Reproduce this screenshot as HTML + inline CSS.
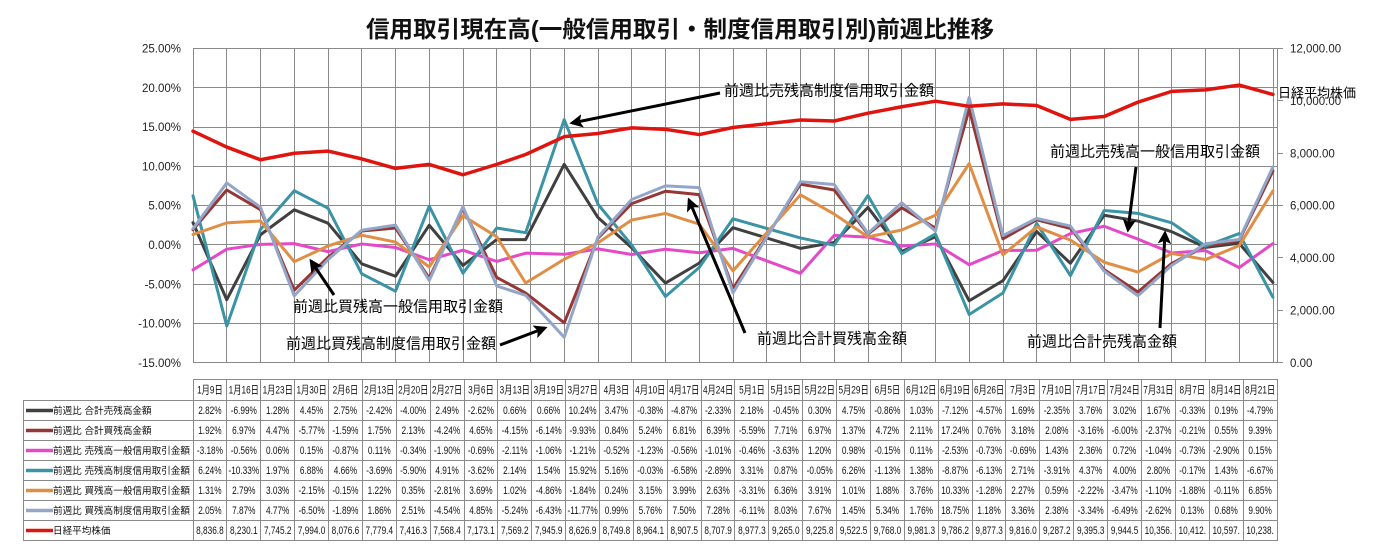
<!DOCTYPE html>
<html><head><meta charset="utf-8"><style>html,body{margin:0;padding:0;background:#fff}svg{display:block}</style></head>
<body>
<svg width="1374" height="554" viewBox="0 0 1374 554" xmlns="http://www.w3.org/2000/svg" font-family='"Liberation Sans","Noto Sans CJK JP",sans-serif'>
<defs>
<marker id="ah" markerWidth="4.5" markerHeight="4.5" refX="3.6" refY="2.25" orient="auto" markerUnits="strokeWidth"><path d="M0,0 L4.5,2.25 L0,4.5 L1,2.25z" fill="#000"/></marker>
</defs>
<rect width="1374" height="554" fill="#fff"/>
<text x="680" y="37" font-size="23" font-weight="bold" text-anchor="middle" textLength="628" lengthAdjust="spacingAndGlyphs" fill="#111">信用取引現在高(一般信用取引・制度信用取引別)前週比推移</text>
<g stroke="#8a8a8a" stroke-width="1" fill="none" shape-rendering="crispEdges">
<path d="M193,48.5H1277M193,87.5H1277M193,127.5H1277M193,166.5H1277M193,205.5H1277M193,244.5H1277M193,284.5H1277M193,323.5H1277M193,362.5H1277"/>
<path d="M193.5,48V363M226.5,48V363M260.5,48V363M294.5,48V363M328.5,48V363M361.5,48V363M395.5,48V363M429.5,48V363M463.5,48V363M496.5,48V363M530.5,48V363M564.5,48V363M598.5,48V363M631.5,48V363M665.5,48V363M699.5,48V363M733.5,48V363M766.5,48V363M800.5,48V363M834.5,48V363M868.5,48V363M901.5,48V363M935.5,48V363M969.5,48V363M1003.5,48V363M1036.5,48V363M1070.5,48V363M1104.5,48V363M1138.5,48V363M1171.5,48V363M1205.5,48V363M1239.5,48V363M1273.5,48V363M1277.5,48V363"/>
<path d="M1277,48.5H1283M1277,100.5H1283M1277,153.5H1283M1277,205.5H1283M1277,257.5H1283M1277,310.5H1283M1277,362.5H1283"/>
</g>
<g font-size="11.5" fill="#222" text-anchor="end">
<text x="181" y="52.5">25.00%</text>
<text x="181" y="91.8">20.00%</text>
<text x="181" y="131.1">15.00%</text>
<text x="181" y="170.4">10.00%</text>
<text x="181" y="209.7">5.00%</text>
<text x="181" y="249">0.00%</text>
<text x="181" y="288.3">-5.00%</text>
<text x="181" y="327.6">-10.00%</text>
<text x="181" y="366.9">-15.00%</text>
</g>
<g font-size="11.5" fill="#222">
<text x="1290" y="52.5">12,000.00</text>
<text x="1290" y="104.9">10,000.00</text>
<text x="1290" y="157.3">8,000.00</text>
<text x="1290" y="209.7">6,000.00</text>
<text x="1290" y="262.1">4,000.00</text>
<text x="1290" y="314.5">2,000.00</text>
<text x="1290" y="366.9">0.00</text>
</g>
<g transform="translate(193,244.8) scale(4.821,-7.86)" fill="none" stroke-linejoin="round" stroke-linecap="round">
<polyline vector-effect="non-scaling-stroke" stroke="#404040" stroke-width="3" points="0,2.82 7,-6.99 14,1.28 21,4.45 28,2.75 35,-2.42 42,-4.00 49,2.49 56,-2.62 63,0.66 69,0.66 77,10.24 84,3.47 91,-0.38 98,-4.87 105,-2.33 112,2.18 126,-0.45 133,0.30 140,4.75 147,-0.86 154,1.03 161,-7.12 168,-4.57 175,1.69 182,-2.35 189,3.76 196,3.02 203,1.67 210,-0.33 217,0.19 224,-4.79"/>
<polyline vector-effect="non-scaling-stroke" stroke="#953735" stroke-width="3" points="0,1.92 7,6.97 14,4.47 21,-5.77 28,-1.59 35,1.75 42,2.13 49,-4.24 56,4.65 63,-4.15 69,-6.14 77,-9.93 84,0.84 91,5.24 98,6.81 105,6.39 112,-5.59 126,7.71 133,6.97 140,1.37 147,4.72 154,2.11 161,17.24 168,0.76 175,3.18 182,2.08 189,-3.16 196,-6.00 203,-2.37 210,-0.21 217,0.55 224,9.39"/>
<polyline vector-effect="non-scaling-stroke" stroke="#E449C8" stroke-width="3" points="0,-3.18 7,-0.56 14,0.06 21,0.15 28,-0.87 35,0.11 42,-0.34 49,-1.90 56,-0.69 63,-2.11 69,-1.06 77,-1.21 84,-0.52 91,-1.23 98,-0.56 105,-1.01 112,-0.46 126,-3.63 133,1.20 140,0.98 147,-0.15 154,0.11 161,-2.53 168,-0.73 175,-0.69 182,1.43 189,2.36 196,0.72 203,-1.04 210,-0.73 217,-2.90 224,0.15"/>
<polyline vector-effect="non-scaling-stroke" stroke="#3B93A6" stroke-width="3" points="0,6.24 7,-10.33 14,1.97 21,6.88 28,4.66 35,-3.69 42,-5.90 49,4.91 56,-3.62 63,2.14 69,1.54 77,15.92 84,5.16 91,-0.03 98,-6.58 105,-2.89 112,3.31 126,0.87 133,-0.05 140,6.26 147,-1.13 154,1.38 161,-8.87 168,-6.13 175,2.71 182,-3.91 189,4.37 196,4.00 203,2.80 210,-0.17 217,1.43 224,-6.67"/>
<polyline vector-effect="non-scaling-stroke" stroke="#E08E45" stroke-width="3" points="0,1.31 7,2.79 14,3.03 21,-2.15 28,-0.15 35,1.22 42,0.35 49,-2.81 56,3.69 63,1.02 69,-4.86 77,-1.84 84,0.24 91,3.15 98,3.99 105,2.63 112,-3.31 126,6.36 133,3.91 140,1.01 147,1.88 154,3.76 161,10.33 168,-1.28 175,2.27 182,0.59 189,-2.22 196,-3.47 203,-1.10 210,-1.88 217,-0.11 224,6.85"/>
<polyline vector-effect="non-scaling-stroke" stroke="#93A6C8" stroke-width="3" points="0,2.05 7,7.87 14,4.77 21,-6.50 28,-1.89 35,1.86 42,2.51 49,-4.54 56,4.85 63,-5.24 69,-6.43 77,-11.77 84,0.99 91,5.76 98,7.50 105,7.28 112,-6.11 126,8.03 133,7.67 140,1.45 147,5.34 154,1.76 161,18.75 168,1.18 175,3.36 182,2.38 189,-3.34 196,-6.49 203,-2.62 210,0.13 217,0.68 224,9.90"/>
</g>
<g transform="translate(193,362.7) scale(4.821,-0.0262)" fill="none" stroke-linejoin="round" stroke-linecap="round">
<polyline vector-effect="non-scaling-stroke" stroke="#E0140F" stroke-width="3.5" points="0,8836.8 7,8230.1 14,7745.2 21,7994.0 28,8076.6 35,7779.4 42,7416.3 49,7568.4 56,7173.1 63,7569.2 69,7945.9 77,8626.9 84,8749.8 91,8964.1 98,8907.5 105,8707.9 112,8977.3 126,9265.0 133,9225.8 140,9522.5 147,9768.0 154,9981.3 161,9786.2 168,9877.3 175,9816.0 182,9287.2 189,9395.3 196,9944.5 203,10356 210,10412 217,10597 224,10238"/>
</g>
<g stroke="#000" stroke-width="3" fill="none" marker-end="url(#ah)">
<line x1="720" y1="93" x2="572" y2="123"/>
<line x1="1136" y1="167" x2="1128" y2="230"/>
<line x1="334" y1="295" x2="311" y2="261"/>
<line x1="500" y1="345" x2="545" y2="328"/>
<line x1="745" y1="333" x2="689" y2="200"/>
<line x1="1160" y1="328" x2="1165" y2="233"/>
</g>
<g font-size="15" fill="#000">
<text x="724" y="95.5">前週比売残高制度信用取引金額</text>
<text x="1050" y="156.5">前週比売残高一般信用取引金額</text>
<text x="293" y="311.5">前週比買残高一般信用取引金額</text>
<text x="286" y="348.5">前週比買残高制度信用取引金額</text>
<text x="757" y="343.5">前週比合計買残高金額</text>
<text x="1027" y="346.5">前週比合計売残高金額</text>
<text x="1278" y="97.5" font-size="13">日経平均株価</text>
</g>
<g stroke="#8a8a8a" stroke-width="1" fill="none" shape-rendering="crispEdges">
<path d="M193,379.5H1277M23,400.5H1277M23,420.5H1277M23,440.5H1277M23,460.5H1277M23,480.5H1277M23,500.5H1277M23,520.5H1277M23,540.5H1277M23.5,400V541"/>
<path d="M193.5,379V541M226.5,379V541M260.5,379V541M294.5,379V541M328.5,379V541M362.5,379V541M396.5,379V541M430.5,379V541M464.5,379V541M497.5,379V541M531.5,379V541M565.5,379V541M599.5,379V541M633.5,379V541M667.5,379V541M701.5,379V541M734.5,379V541M768.5,379V541M802.5,379V541M836.5,379V541M870.5,379V541M904.5,379V541M938.5,379V541M972.5,379V541M1005.5,379V541M1039.5,379V541M1073.5,379V541M1107.5,379V541M1141.5,379V541M1175.5,379V541M1209.5,379V541M1243.5,379V541M1277.5,379V541"/>
</g>
<g stroke-width="3.5" fill="none">
<line x1="26" y1="410.5" x2="53" y2="410.5" stroke="#404040"/>
<line x1="26" y1="430.5" x2="53" y2="430.5" stroke="#953735"/>
<line x1="26" y1="450.5" x2="53" y2="450.5" stroke="#E449C8"/>
<line x1="26" y1="470.5" x2="53" y2="470.5" stroke="#3B93A6"/>
<line x1="26" y1="490.5" x2="53" y2="490.5" stroke="#E08E45"/>
<line x1="26" y1="510.5" x2="53" y2="510.5" stroke="#93A6C8"/>
<line x1="26" y1="530.5" x2="53" y2="530.5" stroke="#E0140F"/>
</g>
<g font-size="9.6" fill="#111">
<text x="53" y="414">前週比 合計売残高金額</text>
<text x="53" y="434">前週比 合計買残高金額</text>
<text x="53" y="454">前週比 売残高一般信用取引金額</text>
<text x="53" y="474">前週比 売残高制度信用取引金額</text>
<text x="53" y="494">前週比 買残高一般信用取引金額</text>
<text x="53" y="514">前週比 買残高制度信用取引金額</text>
<text x="53" y="534">日経平均株価</text>
</g>
<g font-size="11" fill="#111" text-anchor="middle">
<g transform="translate(209.9,0) scale(0.75,1)"><text y="393.5">1月9日</text><text y="414">2.82%</text><text y="434">1.92%</text><text y="454">-3.18%</text><text y="474">6.24%</text><text y="494">1.31%</text><text y="514">2.05%</text><text y="534">8,836.8</text></g>
<g transform="translate(243.8,0) scale(0.75,1)"><text y="393.5">1月16日</text><text y="414">-6.99%</text><text y="434">6.97%</text><text y="454">-0.56%</text><text y="474">-10.33%</text><text y="494">2.79%</text><text y="514">7.87%</text><text y="534">8,230.1</text></g>
<g transform="translate(277.7,0) scale(0.75,1)"><text y="393.5">1月23日</text><text y="414">1.28%</text><text y="434">4.47%</text><text y="454">0.06%</text><text y="474">1.97%</text><text y="494">3.03%</text><text y="514">4.77%</text><text y="534">7,745.2</text></g>
<g transform="translate(311.6,0) scale(0.75,1)"><text y="393.5">1月30日</text><text y="414">4.45%</text><text y="434">-5.77%</text><text y="454">0.15%</text><text y="474">6.88%</text><text y="494">-2.15%</text><text y="514">-6.50%</text><text y="534">7,994.0</text></g>
<g transform="translate(345.4,0) scale(0.75,1)"><text y="393.5">2月6日</text><text y="414">2.75%</text><text y="434">-1.59%</text><text y="454">-0.87%</text><text y="474">4.66%</text><text y="494">-0.15%</text><text y="514">-1.89%</text><text y="534">8,076.6</text></g>
<g transform="translate(379.3,0) scale(0.75,1)"><text y="393.5">2月13日</text><text y="414">-2.42%</text><text y="434">1.75%</text><text y="454">0.11%</text><text y="474">-3.69%</text><text y="494">1.22%</text><text y="514">1.86%</text><text y="534">7,779.4</text></g>
<g transform="translate(413.2,0) scale(0.75,1)"><text y="393.5">2月20日</text><text y="414">-4.00%</text><text y="434">2.13%</text><text y="454">-0.34%</text><text y="474">-5.90%</text><text y="494">0.35%</text><text y="514">2.51%</text><text y="534">7,416.3</text></g>
<g transform="translate(447.1,0) scale(0.75,1)"><text y="393.5">2月27日</text><text y="414">2.49%</text><text y="434">-4.24%</text><text y="454">-1.90%</text><text y="474">4.91%</text><text y="494">-2.81%</text><text y="514">-4.54%</text><text y="534">7,568.4</text></g>
<g transform="translate(480.9,0) scale(0.75,1)"><text y="393.5">3月6日</text><text y="414">-2.62%</text><text y="434">4.65%</text><text y="454">-0.69%</text><text y="474">-3.62%</text><text y="494">3.69%</text><text y="514">4.85%</text><text y="534">7,173.1</text></g>
<g transform="translate(514.8,0) scale(0.75,1)"><text y="393.5">3月13日</text><text y="414">0.66%</text><text y="434">-4.15%</text><text y="454">-2.11%</text><text y="474">2.14%</text><text y="494">1.02%</text><text y="514">-5.24%</text><text y="534">7,569.2</text></g>
<g transform="translate(548.7,0) scale(0.75,1)"><text y="393.5">3月19日</text><text y="414">0.66%</text><text y="434">-6.14%</text><text y="454">-1.06%</text><text y="474">1.54%</text><text y="494">-4.86%</text><text y="514">-6.43%</text><text y="534">7,945.9</text></g>
<g transform="translate(582.6,0) scale(0.75,1)"><text y="393.5">3月27日</text><text y="414">10.24%</text><text y="434">-9.93%</text><text y="454">-1.21%</text><text y="474">15.92%</text><text y="494">-1.84%</text><text y="514">-11.77%</text><text y="534">8,626.9</text></g>
<g transform="translate(616.4,0) scale(0.75,1)"><text y="393.5">4月3日</text><text y="414">3.47%</text><text y="434">0.84%</text><text y="454">-0.52%</text><text y="474">5.16%</text><text y="494">0.24%</text><text y="514">0.99%</text><text y="534">8,749.8</text></g>
<g transform="translate(650.3,0) scale(0.75,1)"><text y="393.5">4月10日</text><text y="414">-0.38%</text><text y="434">5.24%</text><text y="454">-1.23%</text><text y="474">-0.03%</text><text y="494">3.15%</text><text y="514">5.76%</text><text y="534">8,964.1</text></g>
<g transform="translate(684.2,0) scale(0.75,1)"><text y="393.5">4月17日</text><text y="414">-4.87%</text><text y="434">6.81%</text><text y="454">-0.56%</text><text y="474">-6.58%</text><text y="494">3.99%</text><text y="514">7.50%</text><text y="534">8,907.5</text></g>
<g transform="translate(718.1,0) scale(0.75,1)"><text y="393.5">4月24日</text><text y="414">-2.33%</text><text y="434">6.39%</text><text y="454">-1.01%</text><text y="474">-2.89%</text><text y="494">2.63%</text><text y="514">7.28%</text><text y="534">8,707.9</text></g>
<g transform="translate(751.9,0) scale(0.75,1)"><text y="393.5">5月1日</text><text y="414">2.18%</text><text y="434">-5.59%</text><text y="454">-0.46%</text><text y="474">3.31%</text><text y="494">-3.31%</text><text y="514">-6.11%</text><text y="534">8,977.3</text></g>
<g transform="translate(785.8,0) scale(0.75,1)"><text y="393.5">5月15日</text><text y="414">-0.45%</text><text y="434">7.71%</text><text y="454">-3.63%</text><text y="474">0.87%</text><text y="494">6.36%</text><text y="514">8.03%</text><text y="534">9,265.0</text></g>
<g transform="translate(819.7,0) scale(0.75,1)"><text y="393.5">5月22日</text><text y="414">0.30%</text><text y="434">6.97%</text><text y="454">1.20%</text><text y="474">-0.05%</text><text y="494">3.91%</text><text y="514">7.67%</text><text y="534">9,225.8</text></g>
<g transform="translate(853.6,0) scale(0.75,1)"><text y="393.5">5月29日</text><text y="414">4.75%</text><text y="434">1.37%</text><text y="454">0.98%</text><text y="474">6.26%</text><text y="494">1.01%</text><text y="514">1.45%</text><text y="534">9,522.5</text></g>
<g transform="translate(887.4,0) scale(0.75,1)"><text y="393.5">6月5日</text><text y="414">-0.86%</text><text y="434">4.72%</text><text y="454">-0.15%</text><text y="474">-1.13%</text><text y="494">1.88%</text><text y="514">5.34%</text><text y="534">9,768.0</text></g>
<g transform="translate(921.3,0) scale(0.75,1)"><text y="393.5">6月12日</text><text y="414">1.03%</text><text y="434">2.11%</text><text y="454">0.11%</text><text y="474">1.38%</text><text y="494">3.76%</text><text y="514">1.76%</text><text y="534">9,981.3</text></g>
<g transform="translate(955.2,0) scale(0.75,1)"><text y="393.5">6月19日</text><text y="414">-7.12%</text><text y="434">17.24%</text><text y="454">-2.53%</text><text y="474">-8.87%</text><text y="494">10.33%</text><text y="514">18.75%</text><text y="534">9,786.2</text></g>
<g transform="translate(989.1,0) scale(0.75,1)"><text y="393.5">6月26日</text><text y="414">-4.57%</text><text y="434">0.76%</text><text y="454">-0.73%</text><text y="474">-6.13%</text><text y="494">-1.28%</text><text y="514">1.18%</text><text y="534">9,877.3</text></g>
<g transform="translate(1022.9,0) scale(0.75,1)"><text y="393.5">7月3日</text><text y="414">1.69%</text><text y="434">3.18%</text><text y="454">-0.69%</text><text y="474">2.71%</text><text y="494">2.27%</text><text y="514">3.36%</text><text y="534">9,816.0</text></g>
<g transform="translate(1056.8,0) scale(0.75,1)"><text y="393.5">7月10日</text><text y="414">-2.35%</text><text y="434">2.08%</text><text y="454">1.43%</text><text y="474">-3.91%</text><text y="494">0.59%</text><text y="514">2.38%</text><text y="534">9,287.2</text></g>
<g transform="translate(1090.7,0) scale(0.75,1)"><text y="393.5">7月17日</text><text y="414">3.76%</text><text y="434">-3.16%</text><text y="454">2.36%</text><text y="474">4.37%</text><text y="494">-2.22%</text><text y="514">-3.34%</text><text y="534">9,395.3</text></g>
<g transform="translate(1124.6,0) scale(0.75,1)"><text y="393.5">7月24日</text><text y="414">3.02%</text><text y="434">-6.00%</text><text y="454">0.72%</text><text y="474">4.00%</text><text y="494">-3.47%</text><text y="514">-6.49%</text><text y="534">9,944.5</text></g>
<g transform="translate(1158.4,0) scale(0.75,1)"><text y="393.5">7月31日</text><text y="414">1.67%</text><text y="434">-2.37%</text><text y="454">-1.04%</text><text y="474">2.80%</text><text y="494">-1.10%</text><text y="514">-2.62%</text><text y="534">10,356.</text></g>
<g transform="translate(1192.3,0) scale(0.75,1)"><text y="393.5">8月7日</text><text y="414">-0.33%</text><text y="434">-0.21%</text><text y="454">-0.73%</text><text y="474">-0.17%</text><text y="494">-1.88%</text><text y="514">0.13%</text><text y="534">10,412.</text></g>
<g transform="translate(1226.2,0) scale(0.75,1)"><text y="393.5">8月14日</text><text y="414">0.19%</text><text y="434">0.55%</text><text y="454">-2.90%</text><text y="474">1.43%</text><text y="494">-0.11%</text><text y="514">0.68%</text><text y="534">10,597.</text></g>
<g transform="translate(1260.1,0) scale(0.75,1)"><text y="393.5">8月21日</text><text y="414">-4.79%</text><text y="434">9.39%</text><text y="454">0.15%</text><text y="474">-6.67%</text><text y="494">6.85%</text><text y="514">9.90%</text><text y="534">10,238.</text></g>
</g>
</svg>
</body></html>
